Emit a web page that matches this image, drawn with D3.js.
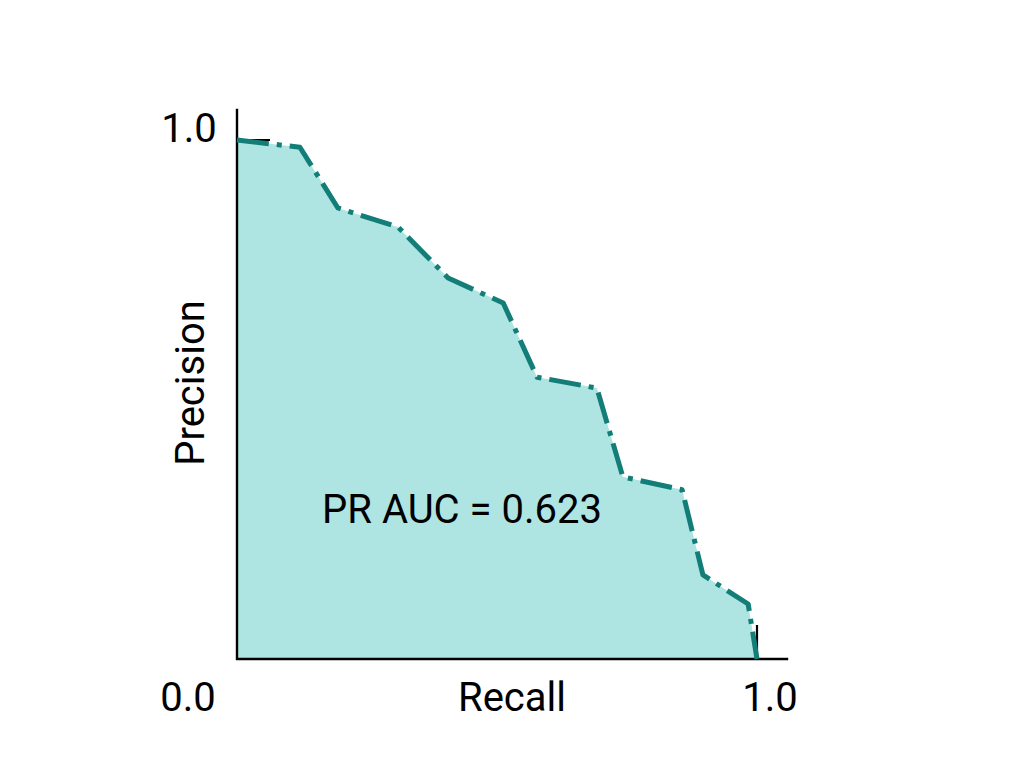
<!DOCTYPE html>
<html>
<head>
<meta charset="utf-8">
<script src="https://cdn.jsdelivr.net/npm/d3@7"></script>
<style>
  body { margin: 0; background: #fff; }
  text { font-family: Roboto, "DejaVu Sans", sans-serif; fill: #000; }
</style>
</head>
<body>
<svg id="chart" width="1024" height="769"></svg>
<script>
// PR curve points
var recall    = [0.0, 0.121, 0.194, 0.310, 0.406, 0.512, 0.577, 0.692, 0.742, 0.856, 0.896, 0.983, 1.0];
var precision = [1.0, 0.986, 0.869, 0.832, 0.734, 0.686, 0.543, 0.522, 0.351, 0.326, 0.162, 0.106, 0.0];
var xTickLabels = ["0.0", "1.0"];
var yTickLabels = ["1.0"];
var aucLabel = "PR AUC = 0.623";

var svg = d3.select("#chart");
var fs = "40px";

var x = d3.scaleLinear().domain([0, 1]).range([237, 757]);
var y = d3.scaleLinear().domain([0, 1]).range([659, 140]);

var pts = recall.map(function(r, i) { return [r, precision[i]]; });

// area under the curve
var area = d3.area()
    .x(function(d) { return x(d[0]); })
    .y0(y(0))
    .y1(function(d) { return y(d[1]); });

svg.append("path")
    .datum(pts)
    .attr("d", area)
    .style("fill", "#aee5e2");

// axes: left and bottom spines run a bit past 1.0
svg.append("line")
    .attr("x1", x(0)).attr("x2", x(0))
    .attr("y1", y(0) + 1).attr("y2", y(1.06))
    .style("stroke", "#000").style("stroke-width", 2.4);

svg.append("line")
    .attr("x1", x(0) - 1).attr("x2", x(1.06))
    .attr("y1", y(0)).attr("y2", y(0))
    .style("stroke", "#000").style("stroke-width", 2.4);

// inward tick marks at 1.0
svg.append("line")
    .attr("x1", x(0)).attr("x2", x(0) + 33)
    .attr("y1", y(1)).attr("y2", y(1))
    .style("stroke", "#000").style("stroke-width", 2.2);

svg.append("line")
    .attr("x1", x(1)).attr("x2", x(1))
    .attr("y1", y(0)).attr("y2", y(0) - 34)
    .style("stroke", "#000").style("stroke-width", 2.2);

// the curve
var line = d3.line()
    .x(function(d) { return x(d[0]); })
    .y(function(d) { return y(d[1]); });

svg.append("path")
    .datum(pts)
    .attr("d", line)
    .style("fill", "none")
    .style("stroke", "#137d78")
    .style("stroke-width", 5)
    .style("stroke-dasharray", "32,8,5,8")
    .style("stroke-linejoin", "round");

// tick labels
svg.append("text")
    .attr("x", x(0) - 49).attr("y", 711)
    .attr("text-anchor", "middle")
    .style("font-size", fs)
    .text(xTickLabels[0]);

svg.append("text")
    .attr("x", x(1) + 13).attr("y", 711)
    .attr("text-anchor", "middle")
    .style("font-size", fs)
    .text(xTickLabels[1]);

svg.append("text")
    .attr("x", 189).attr("y", y(1) + 2)
    .attr("text-anchor", "middle")
    .style("font-size", fs)
    .text(yTickLabels[0]);

// axis titles
svg.append("text")
    .attr("x", 512).attr("y", 711)
    .attr("text-anchor", "middle")
    .style("font-size", fs)
    .text("Recall");

svg.append("text")
    .attr("transform", "translate(204,383) rotate(-90)")
    .attr("text-anchor", "middle")
    .style("font-size", fs)
    .text("Precision");

svg.append("text")
    .attr("x", 462).attr("y", 523)
    .attr("text-anchor", "middle")
    .style("font-size", fs)
    .text(aucLabel);
</script>
</body>
</html>
